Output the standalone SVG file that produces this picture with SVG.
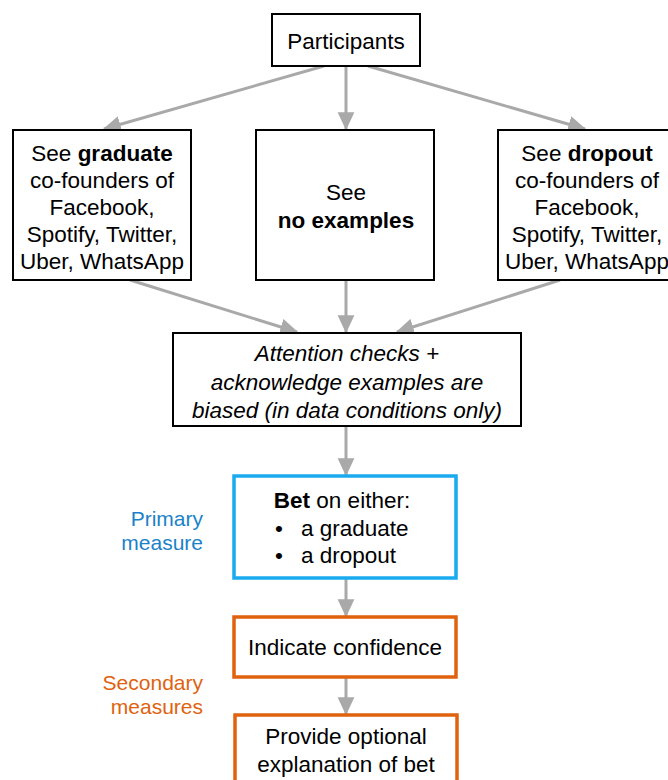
<svg xmlns="http://www.w3.org/2000/svg" width="668" height="780" viewBox="0 0 668 780">
<style>
text{font-family:"Liberation Sans",Arial,sans-serif;font-size:22.5px;fill:#000;text-anchor:middle}
.box{fill:#fff;stroke:#000;stroke-width:2}
.blue{fill:#fff;stroke:#1AAAF0;stroke-width:3.5}
.orange{fill:#fff;stroke:#E0620E;stroke-width:3.5}
.conn{stroke:#A9A9A9;stroke-width:3;fill:none;marker-end:url(#ah)}
.b{font-weight:bold}
.i{font-style:italic}
.lblue{fill:#1B82C8;text-anchor:end;font-size:21px}
.lorange{fill:#E0620E;text-anchor:end;font-size:21px}
</style>
<defs>
<marker id="ah" markerWidth="6" markerHeight="6" refX="5.6" refY="3" orient="auto" markerUnits="strokeWidth">
<path d="M0,0.2 L6,3 L0,5.8 Z" fill="#A9A9A9"/>
</marker>
</defs>
<rect width="668" height="780" fill="#fff"/>
<g id="connectors">
<line class="conn" x1="324" y1="66" x2="104" y2="129"/>
<line class="conn" x1="346" y1="66" x2="346" y2="129"/>
<line class="conn" x1="368" y1="66" x2="585" y2="129"/>
<line class="conn" x1="130" y1="280" x2="297" y2="332"/>
<line class="conn" x1="346" y1="280" x2="346" y2="332"/>
<line class="conn" x1="560" y1="280" x2="397" y2="332"/>
<line class="conn" x1="346" y1="426" x2="346" y2="475"/>
<line class="conn" x1="346" y1="578" x2="346" y2="616"/>
<line class="conn" x1="346" y1="677" x2="346" y2="714"/>
</g>
<g id="participants">
<rect class="box" x="272" y="14" width="148" height="52"/>
<text x="346" y="49">Participants</text>
</g>
<g id="graduate">
<rect class="box" x="13" y="130" width="178" height="150"/>
<text x="102" y="161">See <tspan class="b">graduate</tspan></text>
<text x="102" y="188">co-founders of</text>
<text x="102" y="215">Facebook,</text>
<text x="102" y="242">Spotify, Twitter,</text>
<text x="102" y="269">Uber, WhatsApp</text>
</g>
<g id="noexamples">
<rect class="box" x="256" y="130" width="178" height="150"/>
<text x="346" y="200">See</text>
<text x="346" y="228" class="b">no examples</text>
</g>
<g id="dropout">
<rect class="box" x="498" y="130" width="178" height="150"/>
<text x="587" y="161">See <tspan class="b">dropout</tspan></text>
<text x="587" y="188">co-founders of</text>
<text x="587" y="215">Facebook,</text>
<text x="587" y="242">Spotify, Twitter,</text>
<text x="587" y="269">Uber, WhatsApp</text>
</g>
<g id="attention">
<rect class="box" x="173" y="333" width="348" height="93"/>
<text x="347" y="361" class="i">Attention checks +</text>
<text x="347" y="390" class="i">acknowledge examples are</text>
<text x="347" y="418" class="i">biased (in data conditions only)</text>
</g>
<g id="primary-label">
<text x="203" y="526" class="lblue">Primary</text>
<text x="203" y="550" class="lblue">measure</text>
</g>
<g id="bet">
<rect class="blue" x="234" y="476" width="222" height="102"/>
<text x="342" y="508"><tspan class="b">Bet</tspan> on either:</text>
<text x="275" y="536" style="text-anchor:start">•</text>
<text x="301" y="536" style="text-anchor:start">a graduate</text>
<text x="275" y="563" style="text-anchor:start">•</text>
<text x="301" y="563" style="text-anchor:start">a dropout</text>
</g>
<g id="secondary-label">
<text x="203" y="690" class="lorange">Secondary</text>
<text x="203" y="714" class="lorange">measures</text>
</g>
<g id="confidence">
<rect class="orange" x="234" y="617" width="222" height="60"/>
<text x="345" y="655">Indicate confidence</text>
</g>
<g id="explanation">
<rect class="orange" x="235" y="715" width="222" height="80"/>
<text x="346" y="744">Provide optional</text>
<text x="346" y="772">explanation of bet</text>
</g>
</svg>
